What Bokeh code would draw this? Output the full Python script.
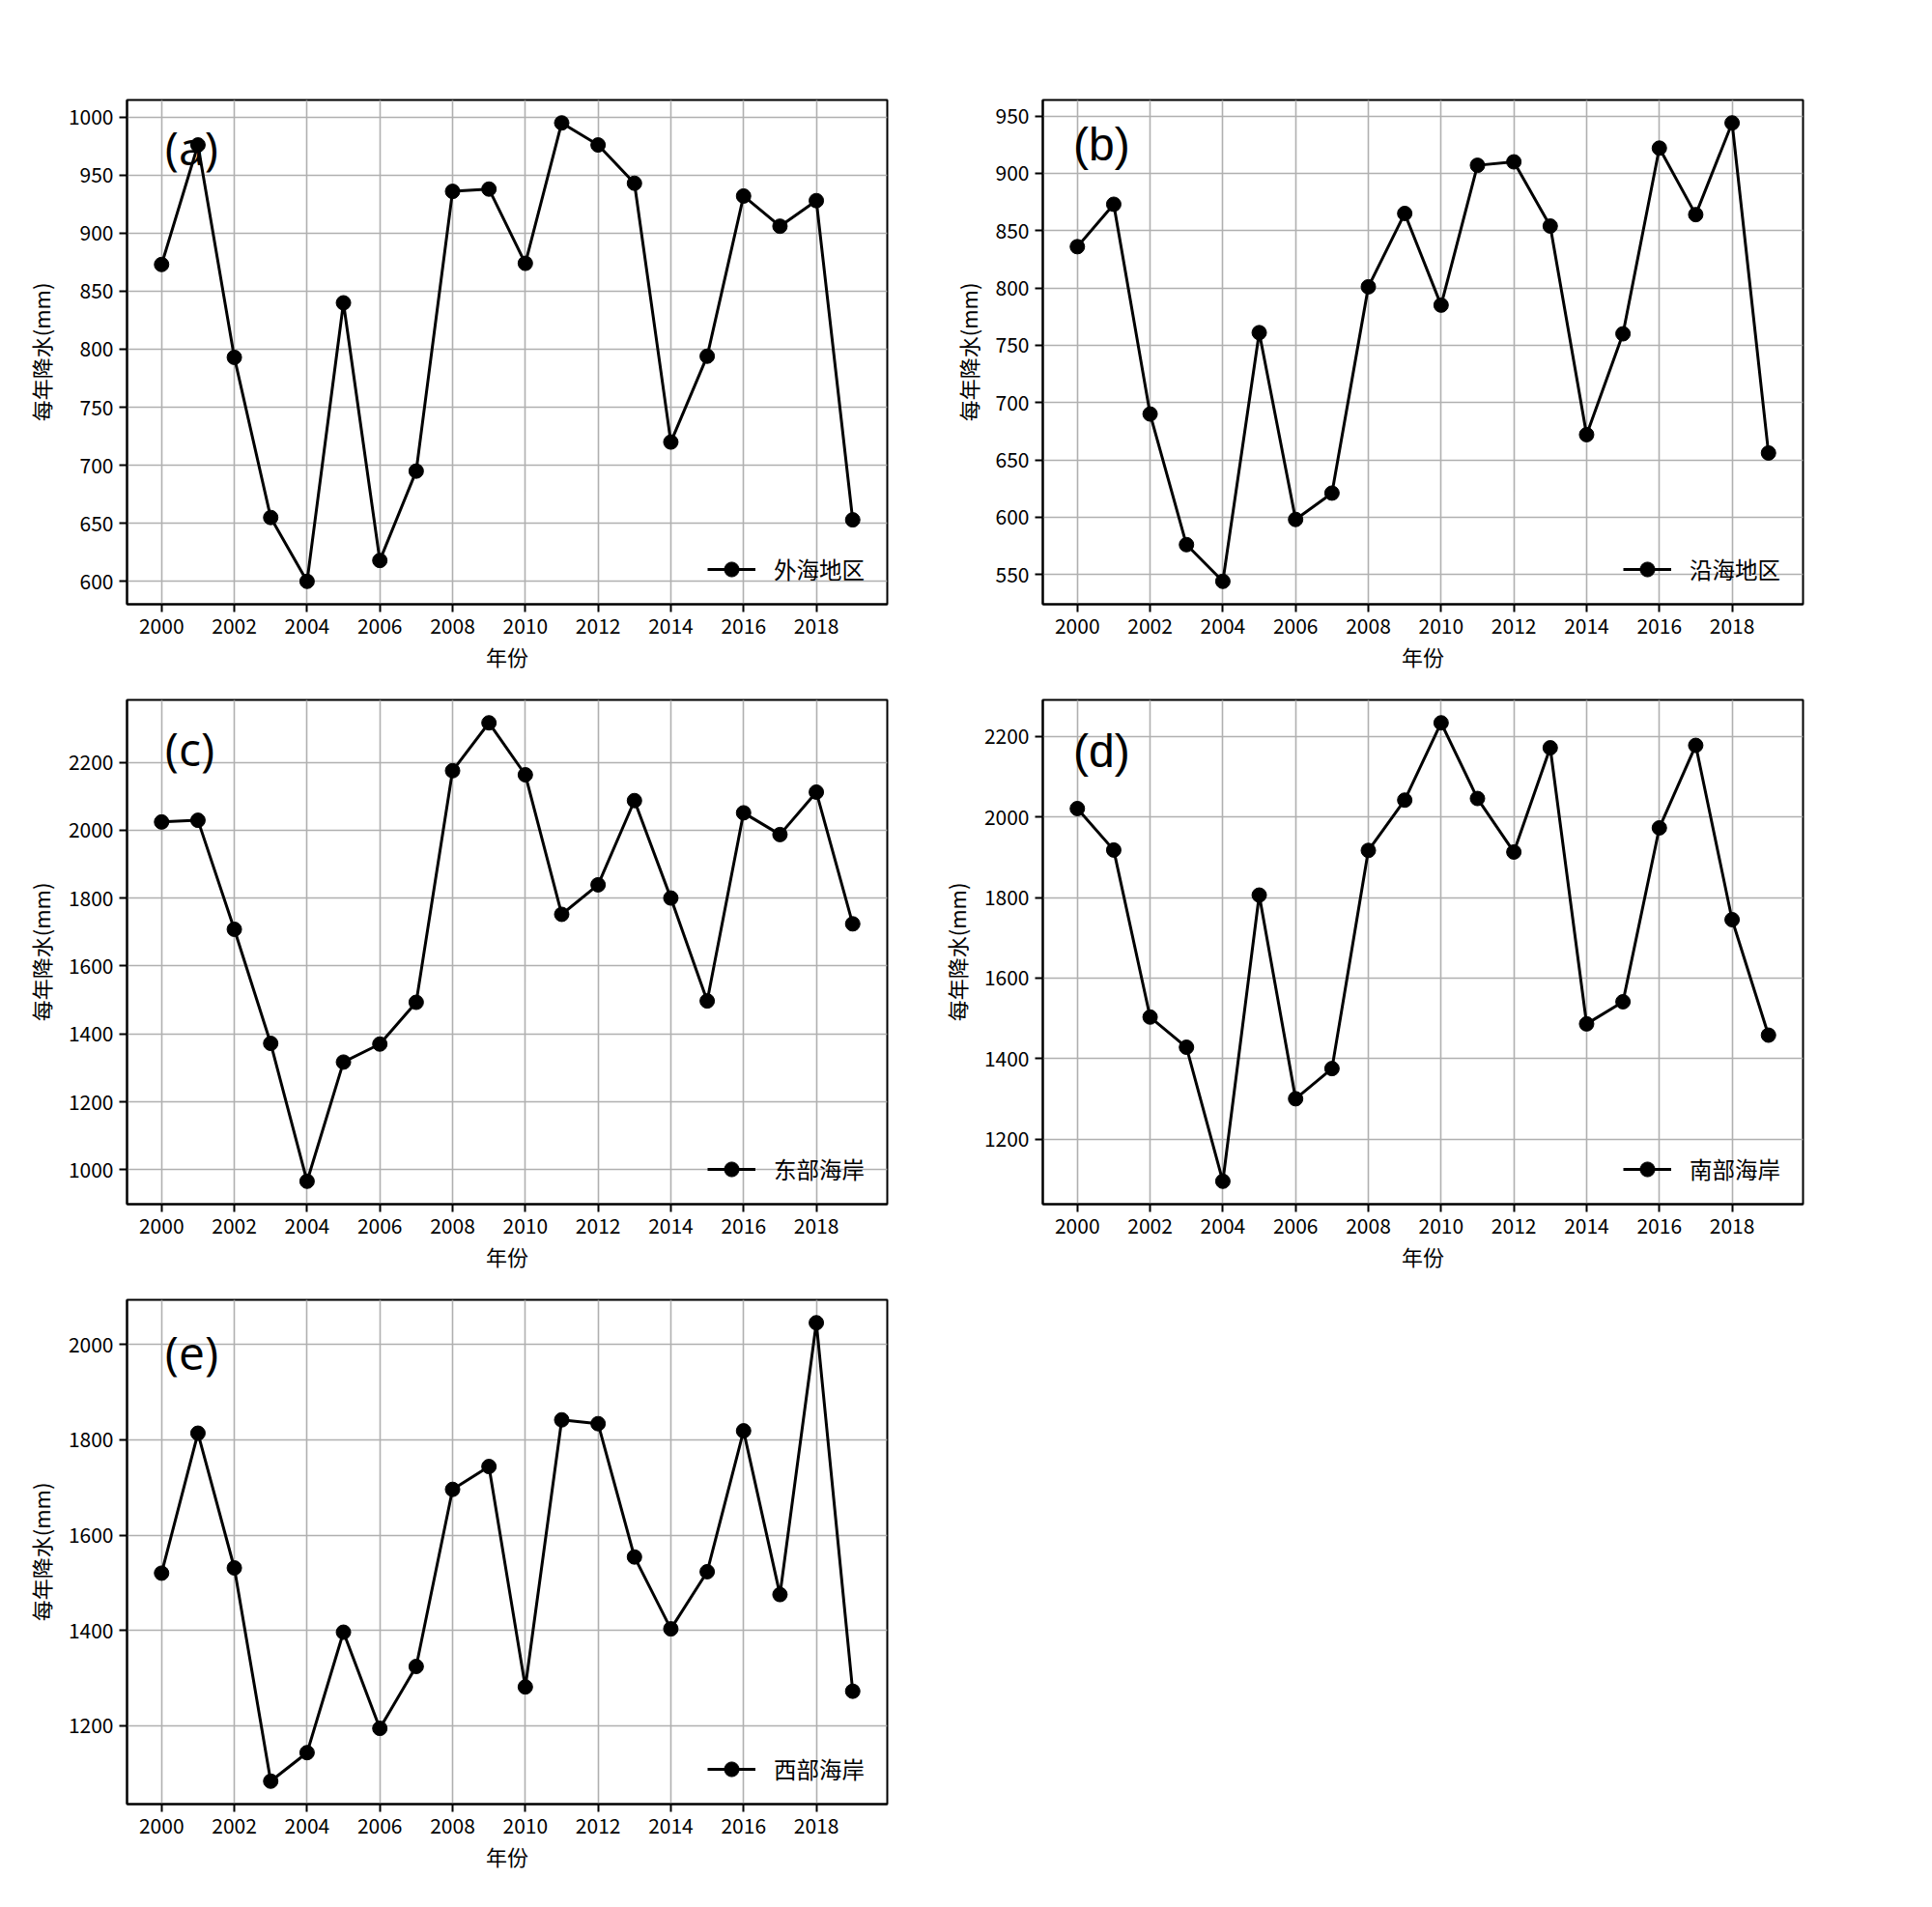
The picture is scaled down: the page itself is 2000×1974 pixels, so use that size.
from bokeh.plotting import figure
from bokeh.layouts import gridplot
from bokeh.models import Range1d, FixedTicker
from bokeh.core.properties import value
from bokeh.embed import file_html
from bokeh.resources import INLINE

# ---------------- data ----------------
years = list(range(2000, 2020))
offshore = [873, 976, 793, 655, 600, 840, 618, 695, 936, 938, 874, 995, 976, 943, 720, 794, 932, 906, 928, 653]
coastal = [836, 873, 690, 576, 544, 761, 598, 621, 801, 865, 785, 907, 910, 854, 672, 760, 922, 864, 944, 656]
east = [2024, 2029, 1708, 1372, 966, 1317, 1370, 1493, 2175, 2316, 2163, 1752, 1839, 2087, 1800, 1497, 2051, 1987, 2112, 1724]
south = [2021, 1918, 1503, 1428, 1095, 1806, 1300, 1375, 1917, 2042, 2234, 2046, 1913, 2172, 1486, 1541, 1973, 2178, 1745, 1458]
west = [1520, 1814, 1531, 1083, 1143, 1396, 1194, 1324, 1696, 1744, 1281, 1842, 1834, 1554, 1403, 1523, 1819, 1475, 2046, 1272]

series_names = ["外海地区", "沿海地区", "东部海岸", "南部海岸", "西部海岸"]
panel_tags = ["(a)", "(b)", "(c)", "(d)", "(e)"]
x_ticks = [2000, 2002, 2004, 2006, 2008, 2010, 2012, 2014, 2016, 2018]
y_ticks_a = [600, 650, 700, 750, 800, 850, 900, 950, 1000]
y_ticks_b = [550, 600, 650, 700, 750, 800, 850, 900, 950]
y_ticks_c = [1000, 1200, 1400, 1600, 1800, 2000, 2200]
y_ticks_d = [1200, 1400, 1600, 1800, 2000, 2200]
y_ticks_e = [1200, 1400, 1600, 1800, 2000]
x_label = "年份"
y_label = "每年降水(mm)"

FONT = "Noto Sans CJK SC"


def make_panel(vals, name, tag, yticks, bl, br, bt, bb, tag_xf, tag_yf, tag_font):
    lo, hi = min(vals), max(vals)
    pad = 0.05 * (hi - lo)
    y0, y1 = lo - pad, hi + pad
    x0, x1 = years[0] - 0.95, years[-1] + 0.95
    p = figure(frame_width=787, frame_height=522,
               x_range=Range1d(x0, x1), y_range=Range1d(y0, y1),
               output_backend="svg", toolbar_location=None,
               min_border_left=bl, min_border_right=br,
               min_border_top=bt, min_border_bottom=bb)
    p.outline_line_color = "black"
    p.outline_line_width = 2
    p.background_fill_color = "white"
    p.border_fill_color = "white"

    for ax in (p.xaxis[0], p.yaxis[0]):
        ax.axis_line_color = "black"
        ax.axis_line_width = 2
        ax.major_tick_line_color = "black"
        ax.major_tick_line_width = 2
        ax.major_tick_out = 8
        ax.major_tick_in = 0
        ax.minor_tick_line_color = None
        ax.major_label_text_font = FONT
        ax.major_label_text_font_size = "21px"
        ax.major_label_text_color = "black"
        ax.axis_label_text_font = FONT
        ax.axis_label_text_font_size = "22px"
        ax.axis_label_text_font_style = "normal"
        ax.axis_label_text_color = "black"
        ax.major_label_standoff = 6

    p.xaxis.ticker = FixedTicker(ticks=x_ticks)
    p.yaxis.ticker = FixedTicker(ticks=yticks)
    p.xgrid.ticker = FixedTicker(ticks=x_ticks)
    p.ygrid.ticker = FixedTicker(ticks=yticks)
    p.xaxis.axis_label = x_label
    p.yaxis.axis_label = y_label
    p.xaxis.axis_label_standoff = 4
    p.yaxis.axis_label_standoff = 10

    for g in (p.xgrid, p.ygrid):
        g.grid_line_color = "#b0b0b0"
        g.grid_line_width = 1.6

    tx = x0 + tag_xf * (x1 - x0)
    ty = y0 + tag_yf * (y1 - y0)
    p.text(x=[tx], y=[ty], text=[tag], text_font=value(tag_font),
           text_font_size=value("48px"), text_align="left",
           text_baseline="middle", text_color="black", text_font_style="normal")

    p.line(years, vals, line_color="black", line_width=3, legend_label=name)
    p.scatter(years, vals, marker="circle", size=15, fill_color="black",
              line_color="black", legend_label=name)

    lg = p.legend[0]
    lg.location = (601, 17)
    lg.border_line_color = None
    lg.background_fill_alpha = 0
    lg.label_text_font = FONT
    lg.label_text_font_size = "23.5px"
    lg.label_text_color = "black"
    lg.glyph_width = 50
    lg.glyph_height = 38
    lg.label_standoff = 19
    lg.margin = 0
    lg.padding = 4
    return p


pa = make_panel(offshore, series_names[0], panel_tags[0], y_ticks_a, 131, 30, 103, 75, 0.05, 0.907, "Open Sans")
pb = make_panel(coastal, series_names[1], panel_tags[1], y_ticks_b, 131, 30, 103, 75, 0.04, 0.911, "Liberation Sans")
pc = make_panel(east, series_names[2], panel_tags[2], y_ticks_c, 131, 30, 24, 75, 0.05, 0.904, "Open Sans")
pd = make_panel(south, series_names[3], panel_tags[3], y_ticks_d, 131, 30, 24, 75, 0.04, 0.899, "Liberation Sans")
pe = make_panel(west, series_names[4], panel_tags[4], y_ticks_e, 131, 30, 24, 75, 0.05, 0.897, "Open Sans")

grid = gridplot([[pa, pb], [pc, pd], [pe, None]], toolbar_location=None)

open("out.html", "w").write(file_html(grid, INLINE))
